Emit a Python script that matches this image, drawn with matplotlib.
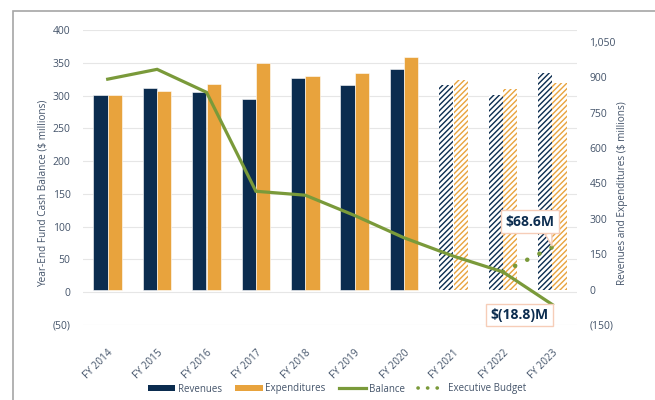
import numpy as np
import matplotlib
matplotlib.use("Agg")
import matplotlib.pyplot as plt
from matplotlib.patches import Patch, Rectangle
from matplotlib.lines import Line2D

# ── Data ──────────────────────────────────────────────────────────────────────
years = ["FY 2014", "FY 2015", "FY 2016", "FY 2017", "FY 2018",
         "FY 2019", "FY 2020", "FY 2021", "FY 2022", "FY 2023"]
revenues = [823, 854, 836, 809, 898, 869, 936, 869, 823, 918]
expenditures = [823, 841, 871, 962, 905, 919, 986, 890, 850, 877]
balance = [325, 340, 305, 154, 148, 117, 83, 55, 31, -18.8]
exec_budget = [np.nan] * 8 + [31, 68.6]
n_actual = 7          # FY2021+ are projected (hatched)

left_ticks = list(range(-50, 401, 50))
right_ticks = list(range(-150, 1051, 150))

# ── Style ─────────────────────────────────────────────────────────────────────
NAVY = '#0B2C4F'
ORANGE = '#E8A33D'
GREEN = '#7A9A3A'
TXT = '#44546A'
GRID = '#E6E6E6'

plt.rcParams['font.family'] = ['Open Sans', 'DejaVu Sans']
plt.rcParams['hatch.linewidth'] = 1.0


def money(v, comma=True):
    s = f"{abs(v):,.0f}" if comma else f"{abs(v):.0f}"
    return f"({s})" if v < 0 else s


fig = plt.figure(figsize=(6.55, 4.0), dpi=100)
ax = fig.add_axes([83 / 655, 75 / 400, 494 / 655, 295 / 400])
ax2 = ax.twinx()      # bars, right scale
ax3 = ax.twinx()      # balance line, left scale (drawn on top of bars)

x = np.arange(len(years))
w = 0.285
off = 0.145

# actual years: solid bars
ax2.bar(x[:n_actual] - off, revenues[:n_actual], w, color=NAVY,
        edgecolor='white', linewidth=0.4)
ax2.bar(x[:n_actual] + off, expenditures[:n_actual], w, color=ORANGE,
        edgecolor='white', linewidth=0.4)
# projected years: hatched bars
ax2.bar(x[n_actual:] - off, revenues[n_actual:], w, facecolor='white',
        edgecolor=NAVY, linewidth=0, hatch='//////')
ax2.bar(x[n_actual:] + off, expenditures[n_actual:], w, facecolor='white',
        edgecolor=ORANGE, linewidth=0, hatch='//////')

ax3.plot(x, balance, color=GREEN, lw=2.3, solid_joinstyle='miter')
ax3.plot(x, exec_budget, color=GREEN, lw=3.2, linestyle=(0, (0.05, 3.0)),
         dash_capstyle='round')

# ── Axes ──────────────────────────────────────────────────────────────────────
ax.set_xlim(-0.5, len(years) - 0.5)
for a in (ax, ax3):
    a.set_ylim(-50, 400)
ax2.set_ylim(-150, 1100)

ax.set_yticks(left_ticks)
ax.set_yticklabels([money(v, comma=False) for v in left_ticks])
ax2.set_yticks(right_ticks)
ax2.set_yticklabels([money(v) for v in right_ticks])
ax3.set_yticks([])

ax.grid(axis='y', color=GRID, lw=0.8)
ax.set_axisbelow(True)

ax.set_xticks(x)
ax.set_xticklabels(years, rotation=45, ha='right', rotation_mode='anchor')
ax.tick_params(axis='x', length=0, pad=16, labelsize=7.3, labelcolor=TXT)
ax.tick_params(axis='y', length=0, pad=9, labelsize=7.5, labelcolor=TXT)
ax2.tick_params(axis='y', length=0, pad=9, labelsize=7.5, labelcolor=TXT)

for a in (ax, ax2, ax3):
    for s in a.spines.values():
        s.set_visible(False)

ax.set_ylabel("Year-End Fund Cash Balance ($ millions)", fontsize=7.2, color=TXT)
ax.yaxis.set_label_coords(-0.07, 0.447)
ax2.set_ylabel("Revenues and Expenditures ($ millions)", fontsize=7.2, color=TXT)
ax2.yaxis.set_label_coords(1.08, 0.447)

# ── Callouts ──────────────────────────────────────────────────────────────────
box = dict(boxstyle='square,pad=0.3', fc='white', ec='#F6CDB8', lw=1)
end_exec = exec_budget[-1]
ax3.annotate(f"${end_exec:.1f}M", xy=(x[-1], end_exec), xytext=(-16, 18.5),
             textcoords='offset points', ha='center', va='center',
             fontsize=10, fontweight='bold', color=NAVY, bbox=box,
             arrowprops=dict(arrowstyle='wedge,tail_width=0.5,shrink_factor=0.5',
                             fc='white', ec='#F6CDB8', lw=1,
                             relpos=(0.85, 0.0), shrinkA=0, shrinkB=1))
end_bal = balance[-1]
ax3.annotate(f"$({abs(end_bal):.1f})M", xy=(x[-1], end_bal), xytext=(-23.5, -7.5),
             textcoords='offset points', ha='center', va='center',
             fontsize=10, fontweight='bold', color=NAVY, bbox=box)

# ── Legend ────────────────────────────────────────────────────────────────────
handles = [
    Patch(facecolor=NAVY, label='Revenues'),
    Patch(facecolor=ORANGE, label='Expenditures'),
    Line2D([], [], color=GREEN, lw=2.3, label='Balance'),
    Line2D([], [], color=GREEN, lw=2.6, linestyle=(0, (0.05, 2.6)),
           dash_capstyle='round', label='Executive Budget'),
]
leg = fig.legend(handles=handles, loc='center', bbox_to_anchor=(337 / 655, 1 - 389 / 400),
                 ncol=4, frameon=False, fontsize=7.0, handlelength=2.8,
                 handleheight=0.55, handletextpad=0.25, columnspacing=1.4)
for t in leg.get_texts():
    t.set_color(TXT)

# outer frame (only top/left edges fall inside the picture)
fig.add_artist(Rectangle((12.5 / 655, -0.1), 1.2, 1.1 - 10.5 / 400,
                         transform=fig.transFigure, fill=False,
                         ec='#A6A6A6', lw=1.2))

fig.savefig('out.png', dpi=100, facecolor='white')
